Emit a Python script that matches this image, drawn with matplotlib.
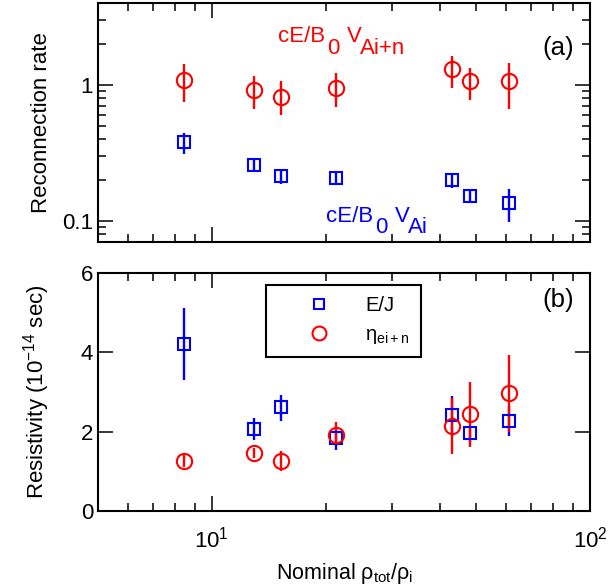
import matplotlib
matplotlib.use("Agg")
import matplotlib.pyplot as plt
import numpy as np
from matplotlib.ticker import FixedLocator, NullFormatter, MultipleLocator
from matplotlib.lines import Line2D

plt.rcParams['font.family'] = ['Liberation Sans', 'DejaVu Sans']
plt.rcParams['mathtext.fontset'] = 'custom'
plt.rcParams['mathtext.rm'] = 'Liberation Sans'
plt.rcParams['mathtext.it'] = 'Liberation Sans'
plt.rcParams['mathtext.sf'] = 'Liberation Sans'

x = [8.45, 12.9, 15.2, 21.3, 43.2, 48.3, 61.1]

rate_in = [1.09, 0.92, 0.82, 0.956, 1.30, 1.06, 1.07]
rate_in_lo = [0.755, 0.667, 0.596, 0.687, 0.946, 0.777, 0.667]
rate_in_hi = [1.42, 1.16, 1.07, 1.22, 1.64, 1.32, 1.44]

rate_i = [0.378, 0.257, 0.213, 0.207, 0.199, 0.152, 0.136]
rate_i_lo = [0.311, 0.229, 0.186, 0.184, 0.176, 0.138, 0.099]
rate_i_hi = [0.443, 0.282, 0.242, 0.232, 0.219, 0.171, 0.173]

ej = [4.22, 2.07, 2.61, 1.85, 2.41, 1.96, 2.26]
ej_lo = [3.31, 1.79, 2.27, 1.54, 1.90, 1.75, 1.88]
ej_hi = [5.13, 2.34, 2.93, 2.10, 2.91, 2.15, 2.64]

eta = [1.26, 1.46, 1.27, 1.92, 2.15, 2.44, 2.97]
eta_lo = [1.12, 1.33, 1.02, 1.72, 1.43, 1.62, 2.00]
eta_hi = [1.40, 1.59, 1.52, 2.24, 2.86, 3.25, 3.94]

RED = '#ff0000'
BLUE = '#0000ff'
FS = 16

fig = plt.figure(figsize=(6.08, 5.87), dpi=100)
W, H = 608, 587
ax1 = fig.add_axes([98 / W, 1 - 242 / H, (590 - 98) / W, (242 - 3) / H])
ax2 = fig.add_axes([98 / W, 1 - 511 / H, (590 - 98) / W, (511 - 273) / H])


def err(v, lo, hi):
    v = np.array(v)
    return [v - np.array(lo), np.array(hi) - v]


kw_c = dict(fmt='o', ms=11, mfc='none', mec=RED, mew=1.5, ecolor=RED, elinewidth=1.7, capsize=0)
kw_s = dict(fmt='s', ms=9, mfc='none', mec=BLUE, mew=1.5, ecolor=BLUE, elinewidth=1.7, capsize=0)

ax1.errorbar(x, rate_in, yerr=err(rate_in, rate_in_lo, rate_in_hi), **kw_c)
ax1.errorbar(x, rate_i, yerr=err(rate_i, rate_i_lo, rate_i_hi), **kw_s)

ax2.errorbar(x, ej, yerr=err(ej, ej_lo, ej_hi), **kw_s)
ax2.errorbar(x, eta, yerr=err(eta, eta_lo, eta_hi), **kw_c)

for ax in (ax1, ax2):
    ax.set_xscale('log')
    ax.set_xlim(5, 100)
    ax.xaxis.set_major_locator(FixedLocator([10, 100]))
    ax.xaxis.set_minor_locator(FixedLocator([5, 6, 7, 8, 9, 20, 30, 40, 50, 60, 70, 80, 90]))
    ax.xaxis.set_minor_formatter(NullFormatter())
    ax.tick_params(which='both', direction='in', top=True, right=True, labelsize=FS, width=1.1)
    ax.tick_params(which='major', length=10.5)
    ax.tick_params(which='minor', length=5.5)
    for s in ax.spines.values():
        s.set_linewidth(1.5)

ax1.set_yscale('log')
ax1.set_ylim(0.07, 4)
ax1.yaxis.set_major_locator(FixedLocator([0.1, 1]))
ax1.set_yticklabels(['0.1', '1'])
ax1.yaxis.set_minor_locator(FixedLocator([0.08, 0.09, 0.2, 0.3, 0.4, 0.5, 0.6, 0.7, 0.8, 0.9, 2, 3, 4]))
ax1.yaxis.set_minor_formatter(NullFormatter())
ax1.set_xticklabels([])
ax1.set_ylabel('Reconnection rate', fontsize=FS)
ax1.yaxis.set_label_coords(-0.094, 0.5)


def chain(ax, x0, y0, parts, color, fs):
    """parts: list of (text, dx_pt, dy_pt) drawn one after the other."""
    first, _, _ = parts[0]
    prev = ax.text(x0, y0, first, color=color, fontsize=fs, transform=ax.transAxes,
                   ha='left', va='baseline')
    for txt, dx, dy in parts[1:]:
        prev = ax.annotate(txt, xy=(1, 0), xycoords=prev, xytext=(dx, dy),
                           textcoords='offset points', color=color, fontsize=fs,
                           ha='left', va='bottom')


chain(ax1, 0.3665, 0.835, [('cE/B', 0, 0), ('0', 1.2, -8), ('V', 5.5, 8), ('Ai+n', -1.5, -8)], RED, FS)
chain(ax1, 0.4634, 0.085, [('cE/B', 0, 0), ('0', 1.2, -8), ('V', 5.5, 8), ('Ai', -1.5, -8)], BLUE, FS)
ax1.text(0.967, 0.81, '(a)', fontsize=18.5, transform=ax1.transAxes, ha='right', va='center')

ax2.set_ylim(0, 6)
ax2.yaxis.set_major_locator(MultipleLocator(2))
ax2.yaxis.set_minor_locator(FixedLocator([]))
ax2.set_xticklabels([r'$10^1$', r'$10^2$'])
ax2.tick_params(axis='x', pad=11)
ax2.set_ylabel(r'Resistivity (10$^{-14}$ sec)', fontsize=FS)
ax2.yaxis.set_label_coords(-0.094, 0.5)
ax2.set_xlabel(r'Nominal $\rho_{\mathrm{tot}}/\rho_{\mathrm{i}}$', fontsize=15.5, labelpad=6)
ax2.text(0.967, 0.887, '(b)', fontsize=18.5, transform=ax2.transAxes, ha='right', va='center')

handles = [Line2D([], [], ls='none', marker='s', ms=7.5, mfc='none', mec=BLUE, mew=1.5),
           Line2D([], [], ls='none', marker='o', ms=10, mfc='none', mec=RED, mew=1.5)]
labels = ['E/J', r'$\eta_{\mathrm{ei+n}}$']
leg = ax2.legend(handles, labels, loc='upper left', bbox_to_anchor=(0.341, 0.95), fontsize=14.5,
                 frameon=True, fancybox=False, edgecolor='black', framealpha=1,
                 handlelength=4.2, handletextpad=0.2, borderpad=0.55, labelspacing=0.5,
                 borderaxespad=0)
leg.get_frame().set_linewidth(1.5)

fig.savefig('out.png', dpi=100)
